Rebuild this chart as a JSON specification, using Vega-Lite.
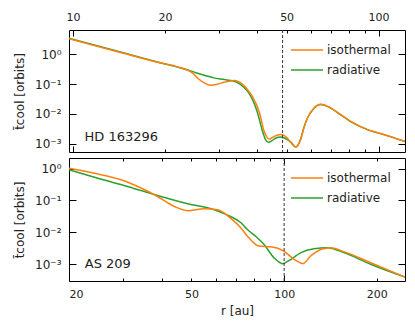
{
  "$schema": "https://vega.github.io/schema/vega-lite/v6.json",
  "padding": {"left": 13, "top": 10, "right": 5, "bottom": 5},
  "config": {
    "font": "DejaVu Sans",
    "view": {"stroke": "#000", "strokeWidth": 1},
    "axis": {"domain": false, "grid": false, "tickColor": "#000", "tickWidth": 1, "labelColor": "#222", "labelFontSize": 11, "titleFontSize": 12, "titleFontWeight": "normal", "titleColor": "#222"},
    "legend": {"orient": "top-right", "offset": 14, "padding": 0, "title": null, "symbolType": "M-3.2,0H3.2", "symbolSize": 100, "symbolStrokeWidth": 1.5, "labelFontSize": 12, "labelColor": "#222", "labelOffset": 14, "rowPadding": 8}
  },
  "datasets": {
    "top": [
      {"r": 9.63, "t": 3.55, "model": "radiative"},
      {"r": 14.4, "t": 1.17, "model": "radiative"},
      {"r": 19.4, "t": 0.513, "model": "radiative"},
      {"r": 22.5, "t": 0.347, "model": "radiative"},
      {"r": 24.8, "t": 0.257, "model": "radiative"},
      {"r": 26.2, "t": 0.214, "model": "radiative"},
      {"r": 28.9, "t": 0.162, "model": "radiative"},
      {"r": 31.0, "t": 0.145, "model": "radiative"},
      {"r": 32.8, "t": 0.133, "model": "radiative"},
      {"r": 34.2, "t": 0.117, "model": "radiative"},
      {"r": 35.4, "t": 0.0955, "model": "radiative"},
      {"r": 36.8, "t": 0.0661, "model": "radiative"},
      {"r": 38.2, "t": 0.0389, "model": "radiative"},
      {"r": 40.2, "t": 0.0105, "model": "radiative"},
      {"r": 41.7, "t": 0.00257, "model": "radiative"},
      {"r": 42.7, "t": 0.00132, "model": "radiative"},
      {"r": 43.5, "t": 0.0011, "model": "radiative"},
      {"r": 44.8, "t": 0.00126, "model": "radiative"},
      {"r": 46.0, "t": 0.00151, "model": "radiative"},
      {"r": 47.8, "t": 0.00166, "model": "radiative"},
      {"r": 50.3, "t": 0.00135, "model": "radiative"},
      {"r": 51.7, "t": 0.0011, "model": "radiative"},
      {"r": 53.6, "t": 0.000759, "model": "radiative"},
      {"r": 55.6, "t": 0.00141, "model": "radiative"},
      {"r": 57.0, "t": 0.00355, "model": "radiative"},
      {"r": 58.5, "t": 0.00724, "model": "radiative"},
      {"r": 61.5, "t": 0.0155, "model": "radiative"},
      {"r": 64.6, "t": 0.0204, "model": "radiative"},
      {"r": 69.7, "t": 0.0155, "model": "radiative"},
      {"r": 75.0, "t": 0.00933, "model": "radiative"},
      {"r": 81.0, "t": 0.0055, "model": "radiative"},
      {"r": 91.8, "t": 0.00295, "model": "radiative"},
      {"r": 104, "t": 0.002, "model": "radiative"},
      {"r": 122, "t": 0.00117, "model": "radiative"},
      {"r": 9.63, "t": 3.43, "model": "isothermal"},
      {"r": 14.4, "t": 1.135, "model": "isothermal"},
      {"r": 19.4, "t": 0.513, "model": "isothermal"},
      {"r": 22.0, "t": 0.38, "model": "isothermal"},
      {"r": 23.7, "t": 0.295, "model": "isothermal"},
      {"r": 24.7, "t": 0.229, "model": "isothermal"},
      {"r": 25.6, "t": 0.158, "model": "isothermal"},
      {"r": 26.8, "t": 0.112, "model": "isothermal"},
      {"r": 28.2, "t": 0.0912, "model": "isothermal"},
      {"r": 29.8, "t": 0.1, "model": "isothermal"},
      {"r": 31.2, "t": 0.115, "model": "isothermal"},
      {"r": 33.7, "t": 0.132, "model": "isothermal"},
      {"r": 35.8, "t": 0.1, "model": "isothermal"},
      {"r": 37.2, "t": 0.0661, "model": "isothermal"},
      {"r": 38.6, "t": 0.0389, "model": "isothermal"},
      {"r": 40.8, "t": 0.0105, "model": "isothermal"},
      {"r": 42.2, "t": 0.00257, "model": "isothermal"},
      {"r": 43.2, "t": 0.00158, "model": "isothermal"},
      {"r": 43.9, "t": 0.00141, "model": "isothermal"},
      {"r": 45.5, "t": 0.00174, "model": "isothermal"},
      {"r": 47.8, "t": 0.002, "model": "isothermal"},
      {"r": 50.3, "t": 0.00151, "model": "isothermal"},
      {"r": 51.7, "t": 0.00107, "model": "isothermal"},
      {"r": 53.6, "t": 0.000759, "model": "isothermal"},
      {"r": 55.6, "t": 0.00141, "model": "isothermal"},
      {"r": 57.0, "t": 0.00355, "model": "isothermal"},
      {"r": 58.5, "t": 0.00724, "model": "isothermal"},
      {"r": 61.5, "t": 0.0157, "model": "isothermal"},
      {"r": 64.6, "t": 0.021, "model": "isothermal"},
      {"r": 69.7, "t": 0.0158, "model": "isothermal"},
      {"r": 75.0, "t": 0.0095, "model": "isothermal"},
      {"r": 81.0, "t": 0.0056, "model": "isothermal"},
      {"r": 91.8, "t": 0.003, "model": "isothermal"},
      {"r": 104, "t": 0.00203, "model": "isothermal"},
      {"r": 122, "t": 0.00119, "model": "isothermal"}
    ],
    "bottom": [
      {"r": 20, "t": 0.912, "model": "radiative"},
      {"r": 24.2, "t": 0.537, "model": "radiative"},
      {"r": 31.0, "t": 0.275, "model": "radiative"},
      {"r": 39.8, "t": 0.133, "model": "radiative"},
      {"r": 48.6, "t": 0.0794, "model": "radiative"},
      {"r": 59.3, "t": 0.0513, "model": "radiative"},
      {"r": 65.5, "t": 0.0347, "model": "radiative"},
      {"r": 72.4, "t": 0.02, "model": "radiative"},
      {"r": 76.0, "t": 0.0123, "model": "radiative"},
      {"r": 81.0, "t": 0.00741, "model": "radiative"},
      {"r": 86.1, "t": 0.00417, "model": "radiative"},
      {"r": 92.8, "t": 0.00158, "model": "radiative"},
      {"r": 98.9, "t": 0.00105, "model": "radiative"},
      {"r": 105, "t": 0.00141, "model": "radiative"},
      {"r": 113, "t": 0.00229, "model": "radiative"},
      {"r": 125, "t": 0.00309, "model": "radiative"},
      {"r": 138, "t": 0.00331, "model": "radiative"},
      {"r": 157, "t": 0.00229, "model": "radiative"},
      {"r": 191, "t": 0.001, "model": "radiative"},
      {"r": 247, "t": 0.000398, "model": "radiative"},
      {"r": 20, "t": 1.02, "model": "isothermal"},
      {"r": 24.2, "t": 0.708, "model": "isothermal"},
      {"r": 29.5, "t": 0.447, "model": "isothermal"},
      {"r": 34.3, "t": 0.245, "model": "isothermal"},
      {"r": 38.8, "t": 0.133, "model": "isothermal"},
      {"r": 44.0, "t": 0.0646, "model": "isothermal"},
      {"r": 48.6, "t": 0.0479, "model": "isothermal"},
      {"r": 55.0, "t": 0.055, "model": "isothermal"},
      {"r": 60.8, "t": 0.0513, "model": "isothermal"},
      {"r": 67.1, "t": 0.0275, "model": "isothermal"},
      {"r": 72.4, "t": 0.0138, "model": "isothermal"},
      {"r": 76.0, "t": 0.00759, "model": "isothermal"},
      {"r": 82.9, "t": 0.00372, "model": "isothermal"},
      {"r": 90.5, "t": 0.00355, "model": "isothermal"},
      {"r": 98.9, "t": 0.00275, "model": "isothermal"},
      {"r": 108, "t": 0.00141, "model": "isothermal"},
      {"r": 115, "t": 0.00105, "model": "isothermal"},
      {"r": 122, "t": 0.00182, "model": "isothermal"},
      {"r": 132, "t": 0.00295, "model": "isothermal"},
      {"r": 142, "t": 0.00331, "model": "isothermal"},
      {"r": 157, "t": 0.00245, "model": "isothermal"},
      {"r": 191, "t": 0.00112, "model": "isothermal"},
      {"r": 247, "t": 0.000398, "model": "isothermal"}
    ]
  },
  "spacing": 4,
  "resolve": {"legend": {"color": "independent"}, "scale": {"x": "independent", "y": "independent"}},
  "vconcat": [
    {
      "width": 336,
      "height": 122,
      "resolve": {"axis": {"x": "independent", "y": "independent"}},
      "layer": [
        {
          "data": {"name": "top"},
          "mark": {"type": "line", "strokeWidth": 1.5, "interpolate": "monotone", "clip": true},
          "encoding": {
            "x": {"field": "r", "type": "quantitative", "scale": {"type": "log", "domain": [9.7, 122], "nice": false},
              "axis": {"orient": "top", "title": null, "values": [10, 20, 30, 40, 50, 60, 70, 80, 90, 100], "format": "d",
                "labelExpr": "indexof([10, 20, 50, 100], datum.value) >= 0 ? datum.label : ''",
                "tickSize": {"condition": {"test": "datum.value == 10 || datum.value == 100", "value": -6}, "value": -3},
                "labelPadding": {"condition": {"test": "datum.value == 10 || datum.value == 100", "value": 14}, "value": 11}}},
            "y": {"field": "t", "type": "quantitative", "scale": {"type": "log", "domain": [0.00052, 6.6], "nice": false},
              "axis": {"orient": "left", "title": "t̄cool [orbits]", "values": [1, 0.1, 0.01, 0.001], "tickSize": -7, "labelPadding": 15, "titlePadding": 8, "labelFontSize": 12,
                "labelExpr": "datum.value > 0.5 ? '10⁰' : datum.value > 0.05 ? '10⁻¹' : datum.value > 0.005 ? '10⁻²' : '10⁻³'"}},
            "color": {"field": "model", "type": "nominal", "scale": {"domain": ["isothermal", "radiative"], "range": ["#ff7f0e", "#2ca02c"]}}
          }
        },
        {
          "data": {"values": [{"r": 48.5}]},
          "mark": {"type": "rule", "strokeDash": [3, 2], "color": "#333", "strokeWidth": 1},
          "encoding": {
            "x": {"field": "r", "type": "quantitative", "scale": {"type": "log", "domain": [9.7, 122], "nice": false},
              "axis": {"orient": "bottom", "title": null, "values": [10, 20, 30, 40, 50, 60, 70, 80, 90, 100], "labels": false,
                "tickSize": {"condition": {"test": "datum.value == 10 || datum.value == 100", "value": -6}, "value": -3}}}
          }
        },
        {
          "data": {"values": [{"r": 10.9, "t": 0.0017, "label": "HD 163296"}]},
          "mark": {"type": "text", "align": "left", "baseline": "middle", "fontSize": 13, "color": "#222"},
          "encoding": {
            "x": {"field": "r", "type": "quantitative", "scale": {"type": "log", "domain": [9.7, 122], "nice": false}, "axis": null},
            "y": {"field": "t", "type": "quantitative", "scale": {"type": "log", "domain": [0.00052, 6.6], "nice": false},
              "axis": {"orient": "right", "title": null, "values": [1, 0.1, 0.01, 0.001], "labels": false, "tickSize": -7}},
            "text": {"field": "label"}
          }
        }
      ]
    },
    {
      "width": 336,
      "height": 123,
      "resolve": {"axis": {"x": "independent", "y": "independent"}},
      "layer": [
        {
          "data": {"name": "bottom"},
          "mark": {"type": "line", "strokeWidth": 1.5, "interpolate": "monotone", "clip": true},
          "encoding": {
            "x": {"field": "r", "type": "quantitative", "scale": {"type": "log", "domain": [20, 247], "nice": false},
              "axis": {"orient": "bottom", "title": "r [au]", "titlePadding": 6, "values": [20, 30, 40, 50, 60, 70, 80, 90, 100, 200], "format": "d",
                "labelExpr": "indexof([20, 50, 100, 200], datum.value) >= 0 ? datum.label : ''",
                "tickSize": {"condition": {"test": "datum.value == 100", "value": -6}, "value": -3},
                "labelPadding": {"condition": {"test": "datum.value == 100", "value": 13}, "value": 10}}},
            "y": {"field": "t", "type": "quantitative", "scale": {"type": "log", "domain": [0.0003, 2.14], "nice": false},
              "axis": {"orient": "left", "title": "t̄cool [orbits]", "values": [1, 0.1, 0.01, 0.001], "tickSize": -7, "labelPadding": 15, "titlePadding": 8, "labelFontSize": 12,
                "labelExpr": "datum.value > 0.5 ? '10⁰' : datum.value > 0.05 ? '10⁻¹' : datum.value > 0.005 ? '10⁻²' : '10⁻³'"}},
            "color": {"field": "model", "type": "nominal", "scale": {"domain": ["isothermal", "radiative"], "range": ["#ff7f0e", "#2ca02c"]}}
          }
        },
        {
          "data": {"values": [{"r": 100}]},
          "mark": {"type": "rule", "strokeDash": [3, 2], "color": "#333", "strokeWidth": 1},
          "encoding": {
            "x": {"field": "r", "type": "quantitative", "scale": {"type": "log", "domain": [20, 247], "nice": false},
              "axis": {"orient": "top", "title": null, "values": [20, 30, 40, 50, 60, 70, 80, 90, 100, 200], "labels": false,
                "tickSize": {"condition": {"test": "datum.value == 100", "value": -6}, "value": -3}}}
          }
        },
        {
          "data": {"values": [{"r": 22.5, "t": 0.001, "label": "AS 209"}]},
          "mark": {"type": "text", "align": "left", "baseline": "middle", "fontSize": 13, "color": "#222"},
          "encoding": {
            "x": {"field": "r", "type": "quantitative", "scale": {"type": "log", "domain": [20, 247], "nice": false}, "axis": null},
            "y": {"field": "t", "type": "quantitative", "scale": {"type": "log", "domain": [0.0003, 2.14], "nice": false},
              "axis": {"orient": "right", "title": null, "values": [1, 0.1, 0.01, 0.001], "labels": false, "tickSize": -7}},
            "text": {"field": "label"}
          }
        }
      ]
    }
  ]
}
